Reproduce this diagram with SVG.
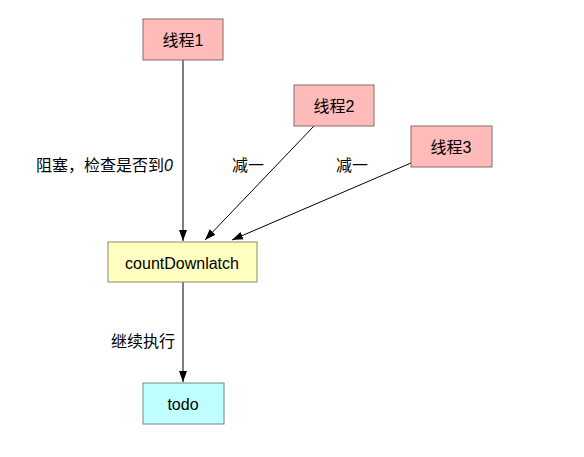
<svg xmlns="http://www.w3.org/2000/svg" width="584" height="457" viewBox="0 0 584 457">
<defs>
<style>
text{font-family:"Liberation Sans","Noto Sans CJK SC",sans-serif;font-size:16px;fill:#000}
.n text{text-anchor:middle;dominant-baseline:central}
.pink{fill:#FFBABA;stroke:#8a6a6a;stroke-width:1}
.yel{fill:#FFFFC0;stroke:#8a8a6a;stroke-width:1}
.cyan{fill:#C0FFFF;stroke:#6a8a8a;stroke-width:1}
.c line{stroke:#000;stroke-width:1;marker-end:url(#ah)}
</style>
<marker id="ah" markerWidth="12" markerHeight="10" refX="11" refY="5" orient="auto" markerUnits="userSpaceOnUse">
<path d="M0,1 L11,5 L0,9 Z" fill="#000"/>
</marker>
</defs>
<rect width="584" height="457" fill="#fff"/>
<g class="c" id="connectors">
<line x1="183" y1="60" x2="183" y2="241"/>
<line x1="314" y1="126" x2="205" y2="240"/>
<line x1="411" y1="163" x2="232" y2="240"/>
<line x1="183" y1="282" x2="183" y2="382"/>
</g>
<g class="n" id="t1"><rect class="pink" x="143" y="19" width="80" height="41"/><text x="183" y="40">线程1</text></g>
<g class="n" id="t2"><rect class="pink" x="294" y="85" width="80" height="41"/><text x="334" y="106">线程2</text></g>
<g class="n" id="t3"><rect class="pink" x="411" y="126" width="81" height="41"/><text x="451" y="147">线程3</text></g>
<g class="n" id="cdl"><rect class="yel" x="108" y="242" width="149" height="40"/><text x="182" y="263">countDownlatch</text></g>
<g class="n" id="todo"><rect class="cyan" x="143" y="383" width="81" height="41"/><text x="183" y="404">todo</text></g>
<g id="labels">
<text x="36" y="171">阻塞，检查是否到<tspan font-style="italic">0</tspan></text>
<text x="232" y="171">减一</text>
<text x="336" y="171">减一</text>
<text x="111" y="347">继续执行</text>
</g>
</svg>
